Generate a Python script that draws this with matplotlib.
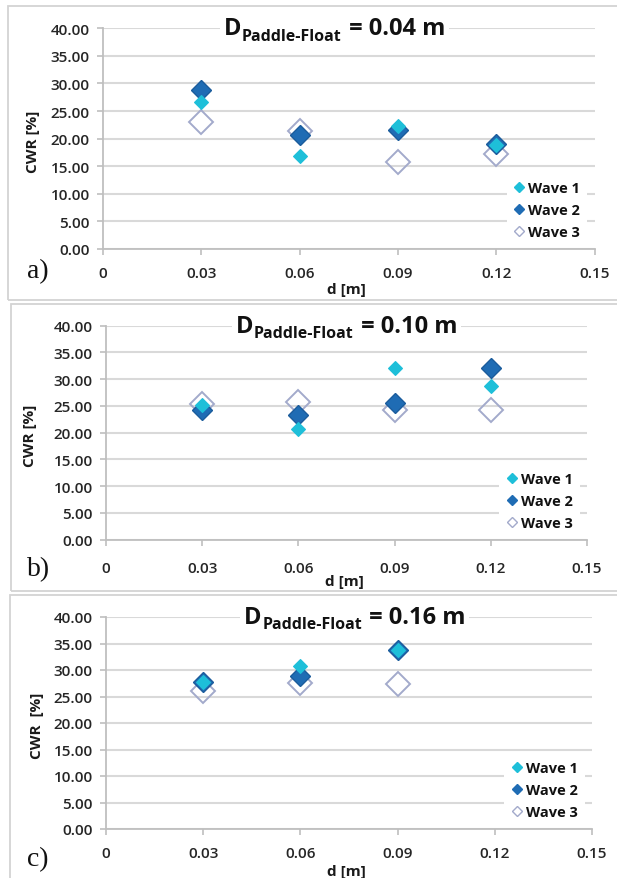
import matplotlib
matplotlib.use("Agg")
import matplotlib.pyplot as plt
from matplotlib.lines import Line2D
from matplotlib.patches import Rectangle

# ---------------- data ----------------
d_values = [0.03, 0.06, 0.09, 0.12]
panel_labels = ["a)", "b)", "c)"]
paddle_diam = ["0.04", "0.10", "0.16"]
series_names = ["Wave 1", "Wave 2", "Wave 3"]

# panel a: D = 0.04 m
a_wave1 = [26.7, 16.9, 22.3, 18.9]
a_wave2 = [28.9, 20.7, 21.5, 19.1]
a_wave3 = [23.1, 21.3, 15.8, 17.2]
# panel b: D = 0.10 m
b_wave1 = [25.2, 20.6, 32.1, 28.7]
b_wave2 = [24.3, 23.4, 25.5, 32.1]
b_wave3 = [25.4, 25.8, 24.3, 24.3]
# panel c: D = 0.16 m (no point at 0.12)
c_d = [0.03, 0.06, 0.09]
c_wave1 = [27.8, 30.7, 33.8]
c_wave2 = [27.8, 28.9, 33.8]
c_wave3 = [26.0, 27.6, 27.3]

y_ticks = [0, 5, 10, 15, 20, 25, 30, 35, 40]
x_ticks = [0, 0.03, 0.06, 0.09, 0.12, 0.15]
x_tick_labels = ["0", "0.03", "0.06", "0.09", "0.12", "0.15"]

# ---------------- style ----------------
W, H = 617, 879
FONT = "Open Sans"
C1 = "#1EBFD9"
C2 = "#1F6CB4"
C2E = "#1B5C9C"
C3 = "#A3AACB"
GRID = "#D9D9D9"
AXC = "#BFBFBF"

plt.rcParams["font.family"] = [FONT, "DejaVu Sans"]

fig = plt.figure(figsize=(W / 100, H / 100), dpi=100)
fig.patch.set_facecolor("white")

# panel borders (pixel coords l,t,r,b)
borders = [(8, 7, 640, 301), (11, 305, 640, 592), (10, 596, 640, 900)]
for (l, t, r, b) in borders:
    fig.patches.append(Rectangle((l / W, 1 - b / H), (r - l) / W, (b - t) / H,
                                 transform=fig.transFigure, fill=False,
                                 edgecolor="#D3D3D3", lw=1.3, zorder=0))

# axes placement (pixel coords)
axes_px = [(103, 29.3, 594.5, 250), (106, 326.7, 587, 540.7), (106, 618, 592, 830)]
title_x0 = [0.0368, 0.0405, 0.0426]
xtick_pad = [8, 11, 8.5]
xlabel_off = [40, 41, 42]
ylabel_px = [33, 30, 37]
ylabel_text = ["CWR [%]", "CWR [%]", "CWR  [%]"]
label_pos = [(27, 272), (27, 570), (27, 860)]

datasets = [
    (d_values, a_wave1, a_wave2, a_wave3),
    (d_values, b_wave1, b_wave2, b_wave3),
    (c_d, c_wave1, c_wave2, c_wave3),
]

for i, (xs, w1, w2, w3) in enumerate(datasets):
    l, t, r, b = axes_px[i]
    ax = fig.add_axes([l / W, 1 - b / H, (r - l) / W, (b - t) / H])
    ax.set_xlim(0, 0.15)
    ax.set_ylim(0, 40)
    ax.set_facecolor("none")
    for s in ["top", "right"]:
        ax.spines[s].set_visible(False)
    for s in ["left", "bottom"]:
        ax.spines[s].set_color(AXC)
        ax.spines[s].set_linewidth(1.3)
    ax.set_yticks(y_ticks)
    ax.set_yticklabels([f"{v:.2f}" for v in y_ticks])
    ax.set_xticks(x_ticks)
    ax.set_xticklabels(x_tick_labels)
    ax.yaxis.grid(True, color=GRID, lw=1.5, zorder=0)
    ax.set_axisbelow(True)
    ax.tick_params(axis="y", length=4, width=1.2, color=AXC, pad=5.5,
                   labelsize=11, labelcolor="#262626")
    ax.tick_params(axis="x", length=4, width=1.2, color=AXC, pad=xtick_pad[i],
                   labelsize=11, labelcolor="#262626")
    for lab in ax.get_xticklabels() + ax.get_yticklabels():
        lab.set_fontweight("semibold")

    ax.plot(xs, w3, ls="none", marker="D", ms=12.5, mfc="none", mec=C3, mew=1.4, zorder=3)
    ax.plot(xs, w2, ls="none", marker="D", ms=10, mfc=C2, mec=C2E, mew=1.0, zorder=4)
    ax.plot(xs, w1, ls="none", marker="D", ms=7.5, mfc=C1, mec=C1, mew=0.8, zorder=5)

    handles = [
        Line2D([], [], ls="none", marker="D", ms=4.8, mfc=C1, mec=C1),
        Line2D([], [], ls="none", marker="D", ms=4.8, mfc=C2, mec=C2),
        Line2D([], [], ls="none", marker="D", ms=4.8, mfc="white", mec=C3, mew=1.0),
    ]
    leg = ax.legend(handles, series_names, loc="lower right", bbox_to_anchor=(0.985, 0.012),
                    frameon=True, facecolor="white", edgecolor="none", framealpha=1,
                    fancybox=False, handlelength=0.7, handletextpad=0.25,
                    labelspacing=0.55, borderpad=0.5, borderaxespad=0,
                    prop={"family": FONT, "weight": "bold", "size": 10.5})
    for txt in leg.get_texts():
        txt.set_color("#111111")
    leg.set_zorder(6)

    # title D_{Paddle-Float} = x m
    tb = dict(facecolor="white", edgecolor="none", pad=2.5)
    t1 = ax.text(title_x0[i], 40, "D", ha="left", va="center", fontsize=17,
                 fontweight="bold", color="#111111", bbox=tb, zorder=7)
    t2 = ax.annotate("Paddle-Float", xy=(1, 0), xycoords=t1, xytext=(0.5, 0.5),
                     textcoords="offset points", ha="left", va="baseline",
                     fontsize=11.5, fontweight="bold", color="#111111",
                     bbox=dict(facecolor="white", edgecolor="none", pad=1),
                     annotation_clip=False, zorder=9)
    t3 = ax.annotate(f" = {paddle_diam[i]} m", xy=(1, 0), xycoords=(t2, t1),
                     xytext=(1, 0), textcoords="offset points",
                     ha="left", va="bottom", fontsize=17, fontweight="bold",
                     color="#111111", bbox=tb, annotation_clip=False, zorder=8)

    # axis labels
    h_px = b - t
    w_px = r - l
    ax.text(0.495, -xlabel_off[i] / h_px, "d [m]", transform=ax.transAxes,
            ha="center", va="center", fontsize=11, fontweight="bold", color="#1a1a1a")
    ax.text((ylabel_px[i] - l) / w_px, 0.49, ylabel_text[i], transform=ax.transAxes,
            rotation=90, ha="center", va="center", fontsize=11, fontweight="bold",
            color="#1a1a1a")

    # panel label
    lx, ly = label_pos[i]
    fig.text(lx / W, 1 - ly / H, panel_labels[i], ha="left", va="center",
             fontsize=20, family="Liberation Serif", color="#111111")

fig.savefig("out.png", dpi=100, facecolor="white")
